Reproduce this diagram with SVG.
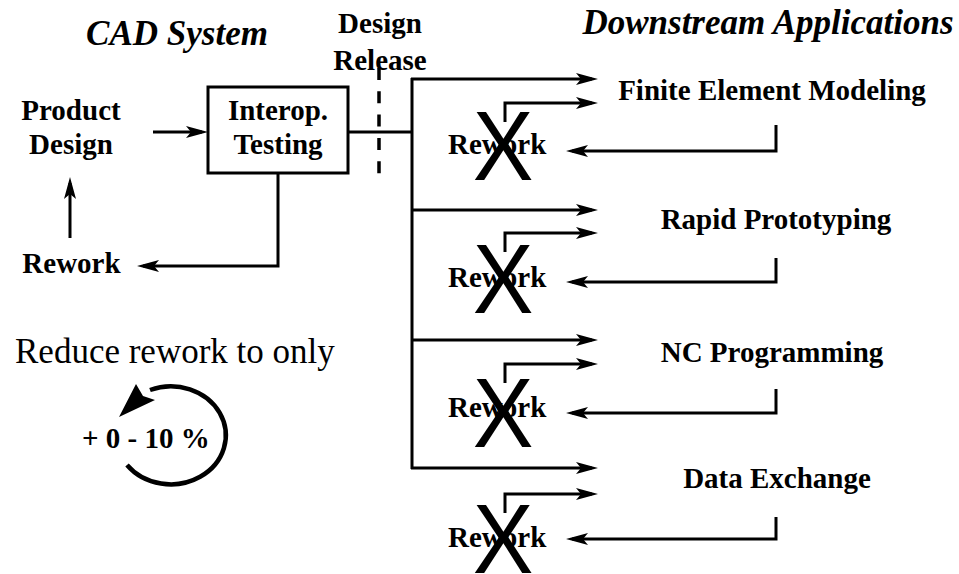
<svg xmlns="http://www.w3.org/2000/svg" width="959" height="574" viewBox="0 0 959 574">
<style>
 .b{font-family:"Liberation Serif","Times New Roman",serif;font-weight:bold;font-size:29px;fill:#000}
 .t{font-family:"Liberation Serif","Times New Roman",serif;font-weight:bold;font-style:italic;font-size:35px;fill:#000}
 .r{font-family:"Liberation Serif","Times New Roman",serif;font-size:35px;fill:#000}
 .x{font-family:"Liberation Sans",Arial,sans-serif;font-size:99px;fill:#000}
 .ln{fill:none;stroke:#000;stroke-width:3}
 .a{marker-end:url(#ah)}
 .c{text-anchor:middle}
</style>
<defs>
 <marker id="ah" viewBox="0 -7 22 14" refX="16" refY="0" markerWidth="22" markerHeight="14" markerUnits="userSpaceOnUse" orient="auto">
  <path d="M0,-6 L22,0 L0,6 L5,0 z" fill="#000"/>
 </marker>
</defs>
<rect width="959" height="574" fill="#fff"/>

<g id="titles">
 <text class="t c" x="177" y="45">CAD System</text>
 <text class="t c" x="768" y="34">Downstream Applications</text>
</g>

<g id="product-design"><text class="b c" x="71" y="120">Product</text><text class="b c" x="71" y="154">Design</text></g>
<g id="interop-testing">
 <rect x="208" y="87" width="140" height="86" fill="#fff" stroke="#000" stroke-width="3"/>
 <text class="b c" x="278" y="120">Interop.</text><text class="b c" x="278" y="154">Testing</text>
</g>
<g id="rework-cad"><text class="b c" x="71.5" y="273">Rework</text></g>
<g id="design-release"><text class="b c" x="380" y="33">Design</text><text class="b c" x="380" y="70">Release</text></g>

<g id="fem"><text class="b c" x="772" y="100">Finite Element Modeling</text></g>
<g id="rp"><text class="b c" x="776" y="229">Rapid Prototyping</text></g>
<g id="nc"><text class="b c" x="772" y="362">NC Programming</text></g>
<g id="dx"><text class="b c" x="777" y="488">Data Exchange</text></g>

<g id="rework-1"><text class="b" x="448" y="154">Rework</text><text class="x c" transform="translate(503,180) scale(0.92,1)">X</text></g>
<g id="rework-2"><text class="b" x="448" y="287">Rework</text><text class="x c" transform="translate(503,313) scale(0.92,1)">X</text></g>
<g id="rework-3"><text class="b" x="448" y="417">Rework</text><text class="x c" transform="translate(503,447) scale(0.92,1)">X</text></g>
<g id="rework-4"><text class="b" x="448" y="547">Rework</text><text class="x c" transform="translate(503,573) scale(0.92,1)">X</text></g>

<g id="reduce">
 <text class="r" x="15" y="363">Reduce rework to only</text>
 <text class="b" x="82" y="448">+ 0 - 10 %</text>
 <path d="M127,465 A55,49 0 1 0 150,390" fill="none" stroke="#000" stroke-width="4.5"/>
 <polygon points="119,417 136,384 143,396 155,400" fill="#000"/>
</g>

<g id="connectors">
 <path class="ln a" d="M153,132 H202"/>
 <path class="ln a" d="M70,238 V183"/>
 <path class="ln a" d="M278,173 V266 H143"/>
 <path class="ln" d="M348,132 H412"/>
 <path class="ln" d="M412,78 V469"/>
 <path d="M379,68 V173.5" fill="none" stroke="#000" stroke-width="3.5" stroke-dasharray="12 11.3"/>
 <path class="ln a" d="M411,79 H592"/>
 <path class="ln a" d="M411,210 H592"/>
 <path class="ln a" d="M411,340 H592"/>
 <path class="ln a" d="M411,468 H592"/>
 <path class="ln a" d="M505,122 V103 H592"/>
 <path class="ln a" d="M505,252 V233 H592"/>
 <path class="ln a" d="M505,383 V364 H592"/>
 <path class="ln a" d="M505,513 V494 H592"/>
 <path class="ln a" d="M776,125 V151 H572"/>
 <path class="ln a" d="M776,258 V282 H572"/>
 <path class="ln a" d="M776,389 V413 H572"/>
 <path class="ln a" d="M776,517 V539 H572"/>
</g>
</svg>
